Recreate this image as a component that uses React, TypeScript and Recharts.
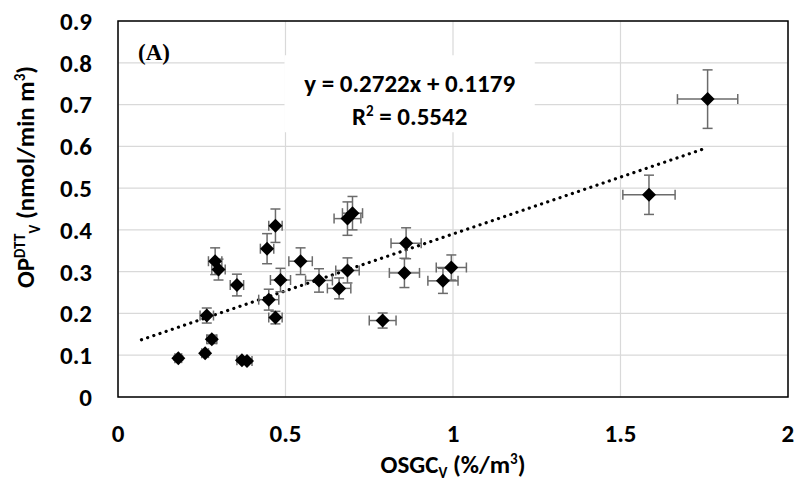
import { ScatterChart, Scatter, XAxis, YAxis, CartesianGrid, ErrorBar, ReferenceLine, ReferenceArea } from 'recharts'

const FONT = 'Carlito, Lato, sans-serif'

// OSGC_V values (x) and OP_DTT_V values (y)
const osgc = [0.18, 0.26, 0.28, 0.265, 0.29, 0.3, 0.355, 0.37, 0.385, 0.445, 0.47, 0.45, 0.47, 0.485, 0.545, 0.6, 0.66, 0.685, 0.685, 0.7, 0.79, 0.86, 0.855, 0.97, 0.995, 1.585, 1.76]
const opdtt = [0.093, 0.105, 0.138, 0.195, 0.325, 0.305, 0.268, 0.088, 0.086, 0.355, 0.41, 0.233, 0.19, 0.28, 0.325, 0.279, 0.26, 0.303, 0.427, 0.44, 0.183, 0.368, 0.297, 0.278, 0.31, 0.484, 0.713]
const osgcErr = [0.01, 0.01, 0.015, 0.02, 0.02, 0.02, 0.02, 0.015, 0.015, 0.02, 0.02, 0.03, 0.02, 0.03, 0.035, 0.04, 0.035, 0.035, 0.04, 0.03, 0.04, 0.045, 0.045, 0.045, 0.045, 0.078, 0.09]
const opdttErr = [0.005, 0.005, 0.01, 0.018, 0.032, 0.025, 0.026, 0.005, 0.005, 0.036, 0.04, 0.025, 0.015, 0.028, 0.032, 0.028, 0.025, 0.03, 0.04, 0.04, 0.018, 0.037, 0.035, 0.03, 0.03, 0.047, 0.07]

// linear trend line end points
const trendX = [0.07, 1.76]
const trendY = [0.137, 0.597]

const xTicks = [0, 0.5, 1, 1.5, 2]
const yTicks = [0, 0.1, 0.2, 0.3, 0.4, 0.5, 0.6, 0.7, 0.8, 0.9]

const data = osgc.map((x, i) => ({ x, y: opdtt[i], ex: osgcErr[i], ey: opdttErr[i] }))

const Diamond = (props: any) => {
  const { cx, cy } = props
  if (cx == null || cy == null) return <g />
  const r = 7
  return <polygon points={`${cx},${cy - r} ${cx + r},${cy} ${cx},${cy + r} ${cx - r},${cy}`} fill="#000" />
}

const EquationLabel = (props: any) => {
  const { viewBox } = props
  const cx = viewBox.x + viewBox.width / 2
  return (
    <g fontFamily={FONT} fontWeight={700} fontSize={25} fill="#000" textAnchor="middle">
      <text x={cx} y={92}>y = 0.2722x + 0.1179</text>
      <text x={cx} y={125}>
        R<tspan dy={-9} fontSize={15}>2</tspan>
        <tspan dy={9}> = 0.5542</tspan>
      </text>
    </g>
  )
}

const PanelLabel = () => (
  <text x={138} y={60} fontFamily="'Liberation Serif', serif" fontWeight={700} fontSize={23} fill="#000">
    (A)
  </text>
)

const XTitle = () => (
  <text x={453} y={473} textAnchor="middle" fontFamily={FONT} fontWeight={700} fontSize={25} fill="#000">
    OSGC<tspan dy={5} fontSize={15}>V</tspan>
    <tspan dy={-5}> (%/m</tspan>
    <tspan dy={-9} fontSize={15}>3</tspan>
    <tspan dy={9}>)</tspan>
  </text>
)

const YTitle = () => (
  <text
    transform="translate(34,177) rotate(-90)"
    textAnchor="middle"
    fontFamily={FONT}
    fontWeight={700}
    fontSize={25}
    fill="#000"
  >
    OP<tspan dy={-9} fontSize={15}>DTT</tspan>
    <tspan dy={15} fontSize={15}>V</tspan>
    <tspan dy={-6}> (nmol/min m</tspan>
    <tspan dy={-9} fontSize={15}>3</tspan>
    <tspan dy={9}>)</tspan>
  </text>
)

export default function App() {
  return (
    <div style={{ width: 794, height: 482, background: '#fff' }}>
      <style>{'body{margin:0}'}</style>
      <ScatterChart width={794} height={482} margin={{ top: 21, right: 6, bottom: 0, left: 0 }}>
        <CartesianGrid stroke="#d9d9d9" strokeWidth={1.2} />
        <XAxis
          type="number"
          dataKey="x"
          domain={[0, 2]}
          ticks={xTicks}
          height={85}
          tickSize={0}
          tickMargin={27}
          axisLine={false}
          tick={{ fontSize: 25, fontWeight: 700, fill: '#000', fontFamily: FONT }}
          label={<XTitle />}
        />
        <YAxis
          type="number"
          dataKey="y"
          domain={[0, 0.9]}
          ticks={yTicks}
          width={118}
          tickSize={0}
          tickMargin={26}
          axisLine={false}
          tick={{ fontSize: 25, fontWeight: 700, fill: '#000', fontFamily: FONT }}
          label={<YTitle />}
        />
        <ReferenceArea x1={0.497} x2={1.244} y1={0.634} y2={0.818} fill="#fff" fillOpacity={1} stroke="none" label={<EquationLabel />} />
        <ReferenceArea x1={0} x2={2} y1={0} y2={0.9} fill="none" stroke="#000" strokeWidth={1.5} label={<PanelLabel />} />
        <ReferenceLine
          segment={[
            { x: trendX[0], y: trendY[0] },
            { x: trendX[1], y: trendY[1] },
          ]}
          stroke="#000"
          strokeWidth={3.2}
          strokeDasharray="0.1 6.4"
          strokeLinecap="round"
        />
        <Scatter data={data} shape={Diamond} isAnimationActive={false}>
          <ErrorBar dataKey="ex" direction="x" width={5} stroke="#6b6b6b" strokeWidth={1.5} />
          <ErrorBar dataKey="ey" direction="y" width={5} stroke="#6b6b6b" strokeWidth={1.5} />
        </Scatter>
      </ScatterChart>
    </div>
  )
}
